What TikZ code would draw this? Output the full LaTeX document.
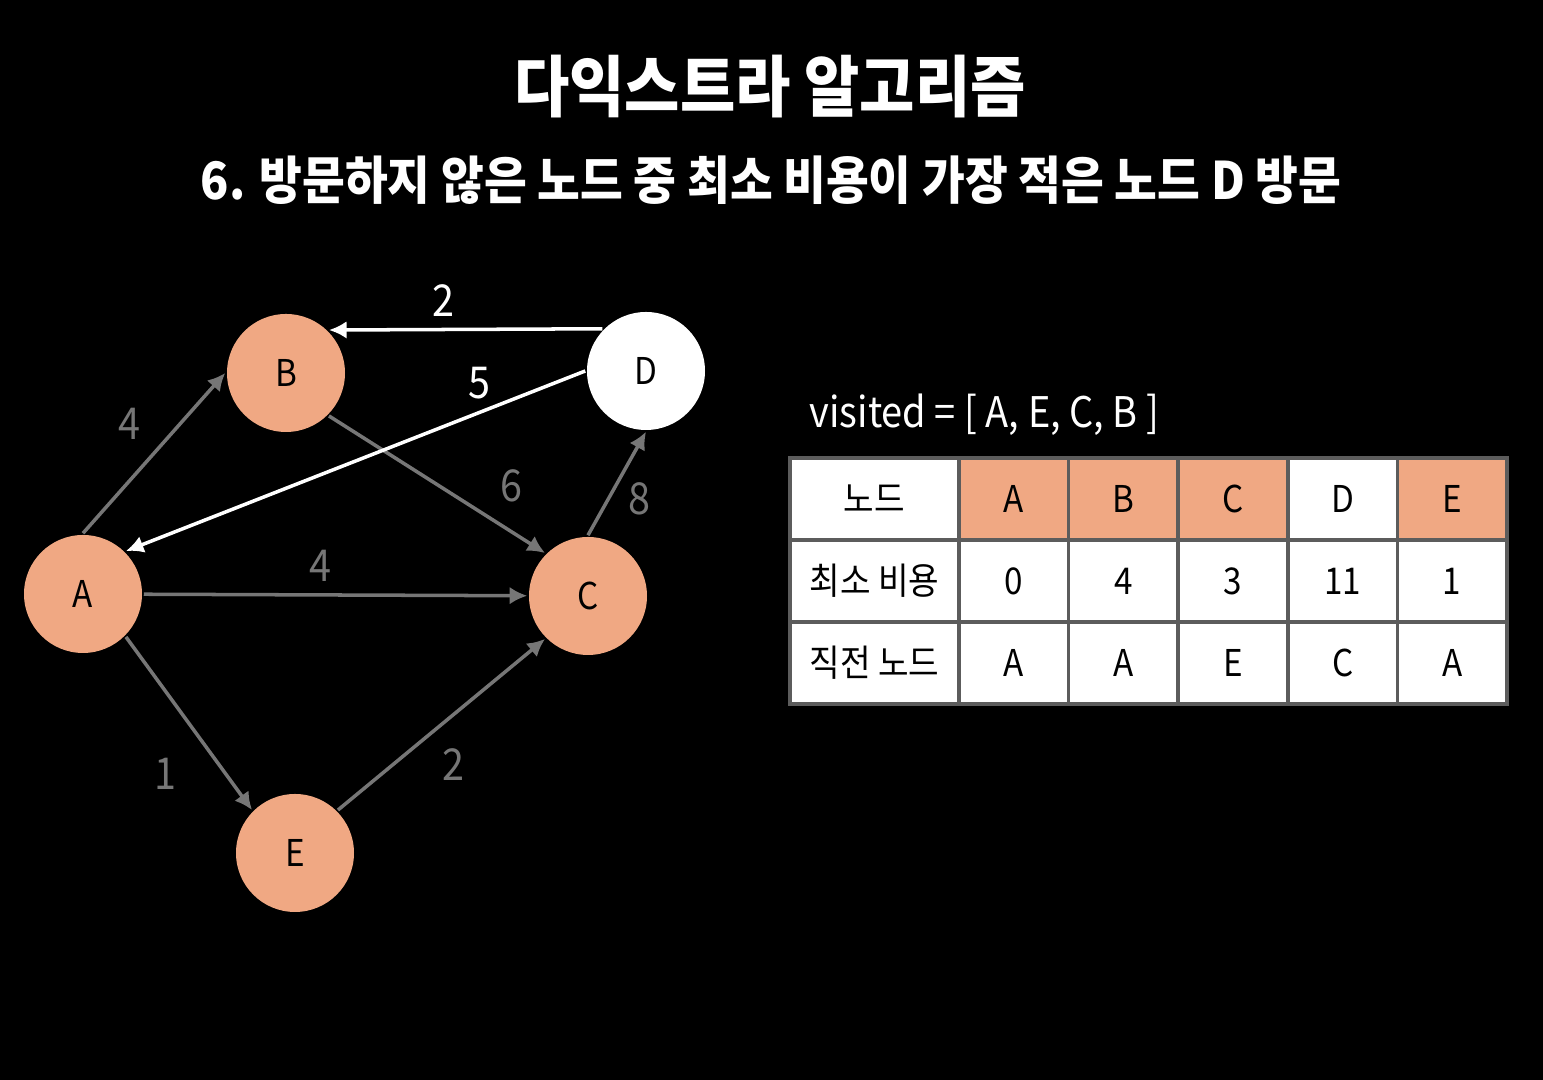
\documentclass[tikz,border=0pt]{standalone}
\usepackage{fontspec}
\setmainfont{Noto Sans CJK KR}[FakeStretch=0.9]
\usepackage{tikz}
\usetikzlibrary{positioning, arrows.meta, calc}

\definecolor{salmon}{RGB}{240,168,131}
\definecolor{roadgray}{RGB}{118,118,118}
\definecolor{gridgray}{RGB}{92,92,92}

\begin{document}
\begin{tikzpicture}[>={Latex[length=5pt,width=5pt]}, line width=1pt,
    vtx/.style={circle, minimum size=1.18cm, inner sep=0pt, fill=salmon, font=\fontsize{10.5}{12}\selectfont},
    road/.style={->, draw=roadgray},
    picked/.style={->, draw=white},
    cost/.style={text=roadgray, font=\fontsize{12.5}{14}\selectfont},
    cell/.style={draw=gridgray, fill=white, minimum width=1.096cm, minimum height=0.82cm, inner sep=0pt, font=\fontsize{10.5}{12}\selectfont}]

% pozadi
\fill[black] (0,0) rectangle (15.43,10.8);
\useasboundingbox (0,0) rectangle (15.43,10.8);

% nadpisy
\node[text=white, font=\bfseries\fontsize{19}{22}\selectfont] (title) at (7.70,9.93) {다익스트라 알고리즘};
\node[text=white, font=\bfseries\fontsize{14.7}{17}\selectfont] (subtitle) at (7.71,9.0) {6. 방문하지 않은 노드 중 최소 비용이 가장 적은 노드 D 방문};

% vrcholy grafu
\node[vtx] (A) at (0.83,4.86) {A};
\node[vtx] (B) at (2.86,7.07) {B};
\node[vtx] (C) at (5.88,4.84) {C};
\node[vtx, fill=white] (D) at (6.46,7.09) {D};
\node[vtx] (E) at (2.95,2.27) {E};

% hrany (sede)
\draw[road] (A.90) -- (B.180) node[cost, midway, above left] {4};
\draw[road] (B.-45) -- (C.135) node[cost, pos=0.73, above right] {6};
\draw[road] (A) -- (C) node[cost, pos=0.46, above] {4};
\draw[road] (A.-45) -- (E.135) node[cost, pos=0.79, left=10pt] {1};
\draw[road] (E.45) -- (C.-135) node[cost, pos=0.44, below right] {2};
\draw[road] (C.90) -- (D.-90) node[cost, pos=0.35, right=2pt] {8};

% hrany z D (bile)
\draw[picked] (D.136) -- (B.45) node[cost, text=white, pos=0.58, above] {2};
\draw[picked] (D.180) -- (A.45) node[cost, text=white, pos=0.23, above] {5};

% tabulka
\node[anchor=west, text=white, font=\fontsize{12}{14}\selectfont, inner sep=0pt] (visited) at (8.08,6.65) {visited = [ A, E, C, B ]};

\node[cell, minimum width=1.69cm] (h0) at (8.745,5.81) {노드};
\node[cell, minimum width=1.69cm] (r0) at (8.745,4.99) {최소 비용};
\node[cell, minimum width=1.69cm] (p0) at (8.745,4.17) {직전 노드};

\foreach \n/\c/\p/\f [count=\i] in {A/0/A/salmon, B/4/A/salmon, C/3/E/salmon, D/11/C/white, E/1/A/salmon} {
    \node[cell, fill=\f] (h\i) at ({9.59+1.096*(\i-0.5)},5.81) {\n};
    \node[cell] (r\i) at ({9.59+1.096*(\i-0.5)},4.99) {\c};
    \node[cell] (p\i) at ({9.59+1.096*(\i-0.5)},4.17) {\p};
}

\end{tikzpicture}
\end{document}
